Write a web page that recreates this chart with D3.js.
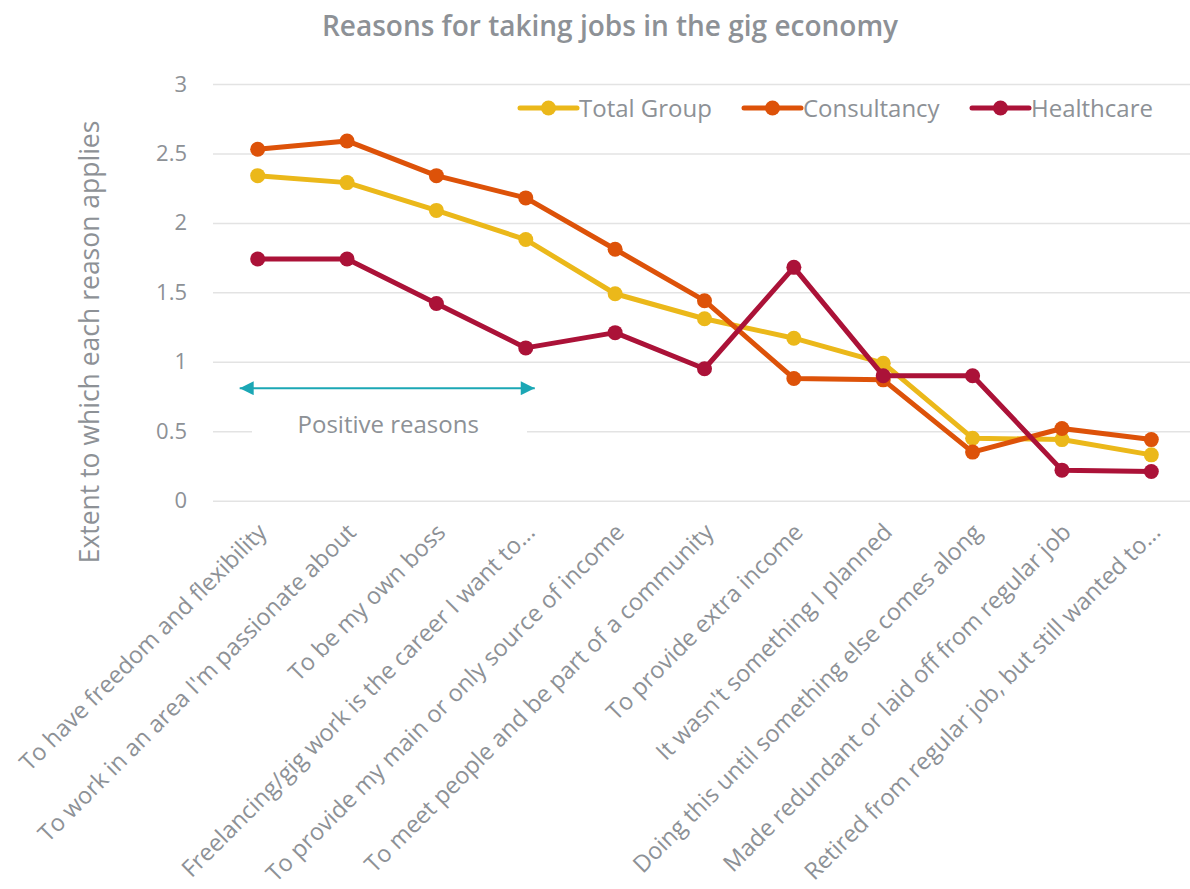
<!DOCTYPE html>
<html><head><meta charset="utf-8">
<script src="https://cdn.jsdelivr.net/npm/d3@7"></script>
<style>body{margin:0;background:#fff;} svg{display:block;font-family:"Open Sans",sans-serif;}</style>
</head><body>
<svg id="chart" width="1190" height="889"></svg>
<script>
const categories = [
  "To have freedom and flexibility",
  "To work in an area I'm passionate about",
  "To be my own boss",
  "Freelancing/gig work is the career I want to...",
  "To provide my main or only source of income",
  "To meet people and be part of a community",
  "To provide extra income",
  "It wasn't something I planned",
  "Doing this until something else comes along",
  "Made redundant or laid off from regular job",
  "Retired from regular job, but still wanted to..."
];
const totalGroup  = [2.34, 2.29, 2.09, 1.88, 1.49, 1.31, 1.17, 0.99, 0.45, 0.44, 0.33];
const consultancy = [2.53, 2.59, 2.34, 2.18, 1.81, 1.44, 0.88, 0.87, 0.35, 0.52, 0.44];
const healthcare  = [1.74, 1.74, 1.42, 1.10, 1.21, 0.95, 1.68, 0.90, 0.90, 0.22, 0.21];
const seriesNames = ["Total Group", "Consultancy", "Healthcare"];
const yTicks = [0, 0.5, 1, 1.5, 2, 2.5, 3];
const yTickLabels = ["0", "0.5", "1", "1.5", "2", "2.5", "3"];
const annotationText = "Positive reasons";
const annotationRange = [0, 3];
const titleText = "Reasons for taking jobs in the gig economy";
const yTitle = "Extent to which each reason applies";

(function(){
const colors = ["#ebb81a", "#dd5209", "#ab1238"];
const textColor = "#8d9196";
const seriesData = [totalGroup, consultancy, healthcare];

const svg = d3.select("#chart");
const pLeft = 213, pRight = 1196, pTop = 84, pBottom = 500.7;

const x = d3.scalePoint().domain(categories).range([pLeft, pRight]).padding(0.5);
const y = d3.scaleLinear().domain([0, 3]).range([pBottom, pTop]);

svg.append("text").attr("x", 610).attr("y", 36).attr("text-anchor", "middle")
  .attr("font-size", 28).attr("font-weight", 600).attr("fill", textColor).text(titleText);

const yAxis = d3.axisLeft(y).tickValues(yTicks).tickFormat((d,i)=>yTickLabels[i])
  .tickSize(-(pRight - pLeft)).tickPadding(26);
const gy = svg.append("g").attr("transform", `translate(${pLeft},0)`).call(yAxis);
gy.select(".domain").remove();
gy.selectAll(".tick line").attr("stroke", "#e3e3e3").attr("stroke-width", 1.5);
gy.selectAll(".tick text").attr("fill", textColor).attr("font-size", 22)
  .attr("font-family", "Open Sans, sans-serif");

svg.append("text").attr("transform", `translate(99,342) rotate(-90)`)
  .attr("text-anchor", "middle").attr("font-size", 26.5).attr("fill", textColor).text(yTitle);

const xAxis = d3.axisBottom(x).tickSize(0).tickPadding(0);
const gx = svg.append("g").attr("transform", `translate(0,${pBottom})`).call(xAxis);
gx.select(".domain").remove();
gx.selectAll(".tick text").attr("fill", textColor).attr("font-size", 23.5)
  .attr("font-family", "Open Sans, sans-serif")
  .attr("text-anchor", "end").attr("dy", 0)
  .attr("transform", "translate(10,33) rotate(-45)");

const ax0 = x(categories[annotationRange[0]]) - 18, ax1 = x(categories[annotationRange[1]]) + 9;
const ay = y(0.81);
const defs = svg.append("defs");
["s","e"].forEach(k=>{
  defs.append("marker").attr("id","arr"+k).attr("viewBox","0 0 10 10").attr("refX", 10).attr("refY",5)
    .attr("markerWidth",15).attr("markerHeight",14).attr("markerUnits","userSpaceOnUse")
    .attr("orient", k==="s" ? "auto-start-reverse" : "auto")
    .append("path").attr("d","M0,0L10,5L0,10Z").attr("fill","#1ba7b5");
});
svg.append("line").attr("x1", ax0).attr("x2", ax1).attr("y1", ay).attr("y2", ay)
  .attr("stroke", "#1ba7b5").attr("stroke-width", 2)
  .attr("marker-start","url(#arrs)").attr("marker-end","url(#arre)");
const annX = (ax0 + ax1) / 2;
svg.append("rect").attr("x", 252).attr("y", y(0.5) - 22).attr("width", 275).attr("height", 36).attr("fill", "#fff");
svg.append("text").attr("x", annX + 1).attr("y", 433).attr("text-anchor", "middle")
  .attr("font-size", 24).attr("fill", textColor).text(annotationText);

const line = d3.line().x((d,i)=>x(categories[i])).y(d=>y(d));
seriesData.forEach((vals, si) => {
  const g = svg.append("g");
  g.append("path").datum(vals).attr("d", line).attr("fill", "none")
    .attr("stroke", colors[si]).attr("stroke-width", 5).attr("stroke-linejoin", "round");
  g.selectAll("circle").data(vals).join("circle")
    .attr("cx", (d,i)=>x(categories[i])).attr("cy", d=>y(d)).attr("r", 7.5).attr("fill", colors[si]);
});

const legendX = [520, 744, 972];
const ly = 108;
seriesNames.forEach((n, i) => {
  const g = svg.append("g").attr("transform", `translate(${legendX[i]},${ly})`);
  g.append("line").attr("x1", 0).attr("x2", 57).attr("stroke", colors[i]).attr("stroke-width", 5).attr("stroke-linecap","round");
  g.append("circle").attr("cx", 28.5).attr("r", 7.5).attr("fill", colors[i]);
  g.append("text").attr("x", 59).attr("y", 8.5).attr("font-size", 24).attr("fill", textColor).text(n);
});
})();
</script>
</body></html>
